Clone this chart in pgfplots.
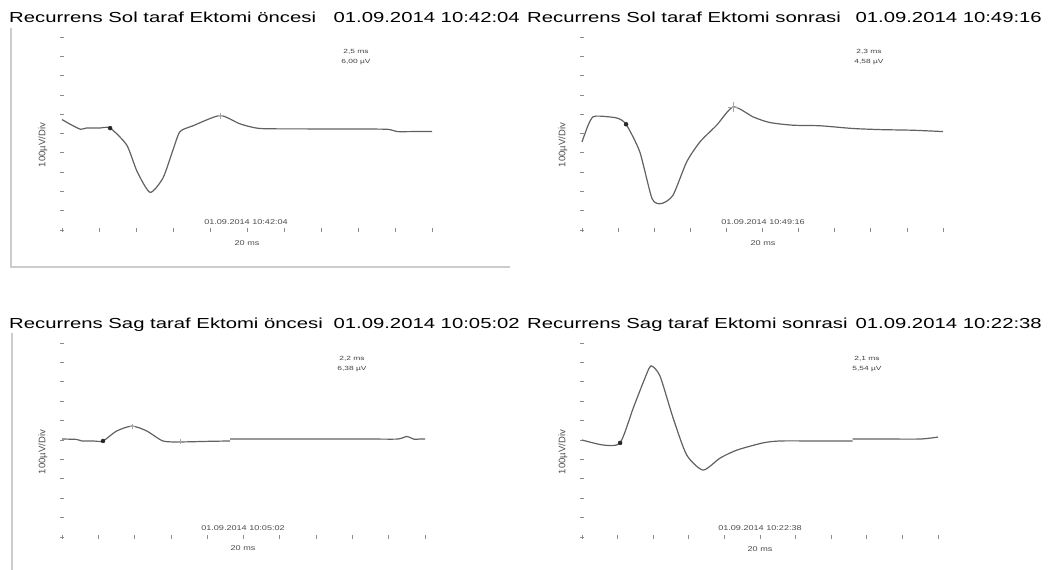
\documentclass[border=0pt]{standalone}
\usepackage{fontspec}
\setmainfont{Liberation Sans}
\usepackage{graphicx}
\usepackage{pgfplots}
\pgfplotsset{compat=1.18}

\newcommand\ttl[1]{\scalebox{1.4}[1]{\fontsize{14.5}{16}\selectfont #1}}
\newcommand\sml[1]{\scalebox{1.3}[1]{\fontsize{7}{8}\selectfont #1}}
\newcommand\rdo[1]{\scalebox{1.4}[1]{\fontsize{6}{6.5}\selectfont #1}}

\pgfplotsset{emg/.style={
  scale only axis, anchor=south west,
  xmin=0, xmax=10, ymin=-5, ymax=5,
  axis lines=left, axis line style={draw=none},
  xtick={0,...,10}, ytick={-5,...,5},
  xticklabels={}, yticklabels={},
  tick align=center, major tick length=3.5pt,
  tick style={draw=black!45, line width=0.8pt},
  clip=false,
},
trace/.style={color=black!62, line width=1.2pt, smooth, tension=0.4},
cur/.style={only marks, mark=*, mark size=2pt, black!85},
crs/.style={only marks, mark=+, mark size=5pt, black!35, mark options={line width=0.6pt}},
}

\begin{document}
\begin{tikzpicture}
\path[use as bounding box] (0pt,0pt) rectangle (1053pt,-570pt);

% frame remnants
\draw[black!20, line width=1.5pt] (11pt,-28pt) -- (11pt,-267pt) -- (510pt,-267pt);
\draw[black!20, line width=1.5pt] (12pt,-333pt) -- (12pt,-570pt);

% titles
\node[anchor=base west, inner sep=0] at (9pt,-22.7pt) {\ttl{Recurrens Sol taraf Ektomi öncesi}};
\node[anchor=base east, inner sep=0] at (520pt,-22.7pt) {\ttl{01.09.2014 10:42:04}};
\node[anchor=base west, inner sep=0] at (527pt,-22.7pt) {\ttl{Recurrens Sol taraf Ektomi sonrasi}};
\node[anchor=base east, inner sep=0] at (1042pt,-22.7pt) {\ttl{01.09.2014 10:49:16}};
\node[anchor=base west, inner sep=0] at (9pt,-328pt) {\ttl{Recurrens Sag taraf Ektomi öncesi}};
\node[anchor=base east, inner sep=0] at (520pt,-328pt) {\ttl{01.09.2014 10:05:02}};
\node[anchor=base west, inner sep=0] at (527pt,-328pt) {\ttl{Recurrens Sag taraf Ektomi sonrasi}};
\node[anchor=base east, inner sep=0] at (1042pt,-328pt) {\ttl{01.09.2014 10:22:38}};

% ---------- panel 1 ----------
\begin{axis}[emg, at={(62pt,-230pt)}, width=370pt, height=193pt]
\addplot[trace] coordinates {
(0,0.72) (0.25,0.45) (0.5,0.22) (0.65,0.28) (1.0,0.28) (1.3,0.28) (1.75,-0.6) (2.03,-1.97)
(2.38,-3.05) (2.73,-2.3) (3.0,-0.85) (3.19,0.1) (3.54,0.4) (4.27,0.93)
(4.81,0.5) (5.35,0.26) (6.5,0.24) (7.7,0.23) (8.78,0.22) (9.05,0.1) (9.5,0.1) (10,0.1)};
\addplot[cur] coordinates {(1.3,0.28)};
\addplot[crs, mark size=3pt] coordinates {(4.27,0.93)};
\end{axis}

% ---------- panel 2 ----------
\begin{axis}[emg, at={(582pt,-230pt)}, width=361pt, height=193pt]
\addplot[trace] coordinates {
(0,-0.43) (0.17,0.43) (0.3,0.86) (0.5,0.9) (0.97,0.8) (1.22,0.48) (1.6,-0.95)
(1.94,-3.37) (2.2,-3.63) (2.52,-3.2) (2.9,-1.47) (3.27,-0.43) (3.73,0.43)
(4.19,1.38) (4.74,0.86) (5.2,0.57) (5.84,0.43) (6.6,0.4) (7.5,0.26) (8.3,0.2)
(9.16,0.17) (10,0.1)};
\addplot[cur] coordinates {(1.22,0.48)};
\addplot[crs] coordinates {(4.19,1.38)};
\end{axis}

% ---------- panel 3 ----------
\begin{axis}[emg, at={(62pt,-537pt)}, width=363pt, height=194pt]
\addplot[trace] coordinates {
(0,0.05) (0.4,0.03) (0.55,-0.05) (0.85,-0.05) (1.13,-0.05) (1.5,0.46) (1.93,0.72)
(2.34,0.46) (2.78,-0.05) (3.25,-0.1) (4.0,-0.07) (4.63,-0.05)};
\addplot[trace] coordinates {
(4.63,0.05) (5.5,0.05) (6.5,0.05) (7.5,0.05) (8.5,0.05) (9.25,0.05)
(9.5,0.18) (9.7,0.04) (9.85,0.05) (10,0.05)};
\addplot[cur] coordinates {(1.13,-0.05)};
\addplot[crs, mark size=2.5pt] coordinates {(1.93,0.72) (3.25,-0.1)};
\end{axis}

% ---------- panel 4 ----------
\begin{axis}[emg, at={(582pt,-537pt)}, width=356pt, height=194pt]
\addplot[trace] coordinates {
(0,0) (0.6,-0.26) (1.07,-0.15) (1.44,1.65) (1.77,3.2) (1.94,3.82) (2.19,3.3)
(2.56,1.13) (2.94,-0.77) (3.4,-1.55) (3.88,-0.93) (4.35,-0.52) (5.08,-0.15)
(5.56,-0.05) (6.6,-0.05) (7.6,-0.05)};
\addplot[trace] coordinates {(7.6,0.05) (8.5,0.05) (9.5,0.05) (10,0.15)};
\addplot[cur] coordinates {(1.07,-0.15)};
\end{axis}

% y labels
\foreach \x/\y in {43/145, 563/145, 43/452, 563/452}{
  \node[rotate=90, inner sep=0, text=black!70, font=\fontsize{9.5}{10}\selectfont] at (\x pt,-\y pt) {100µV/Div};
}
% x labels and date stamps
\node[text=black!70, inner sep=0] at (247pt,-243pt) {\sml{20 ms}};
\node[text=black!70, inner sep=0] at (763pt,-243pt) {\sml{20 ms}};
\node[text=black!70, inner sep=0] at (243pt,-548pt) {\sml{20 ms}};
\node[text=black!70, inner sep=0] at (760pt,-549pt) {\sml{20 ms}};
\node[text=black!70, inner sep=0] at (246pt,-222pt) {\sml{01.09.2014 10:42:04}};
\node[text=black!70, inner sep=0] at (763pt,-222pt) {\sml{01.09.2014 10:49:16}};
\node[text=black!70, inner sep=0] at (243pt,-528pt) {\sml{01.09.2014 10:05:02}};
\node[text=black!70, inner sep=0] at (760pt,-528pt) {\sml{01.09.2014 10:22:38}};
% cursor readouts
\node[text=black!75, inner sep=0, align=center] at (356pt,-57pt) {\rdo{2,5 ms}\\[-2pt]\rdo{6,00 µV}};
\node[text=black!75, inner sep=0, align=center] at (869pt,-57pt) {\rdo{2,3 ms}\\[-2pt]\rdo{4,58 µV}};
\node[text=black!75, inner sep=0, align=center] at (352pt,-364pt) {\rdo{2,2 ms}\\[-2pt]\rdo{6,38 µV}};
\node[text=black!75, inner sep=0, align=center] at (867pt,-364pt) {\rdo{2,1 ms}\\[-2pt]\rdo{5,54 µV}};
\end{tikzpicture}
\end{document}
